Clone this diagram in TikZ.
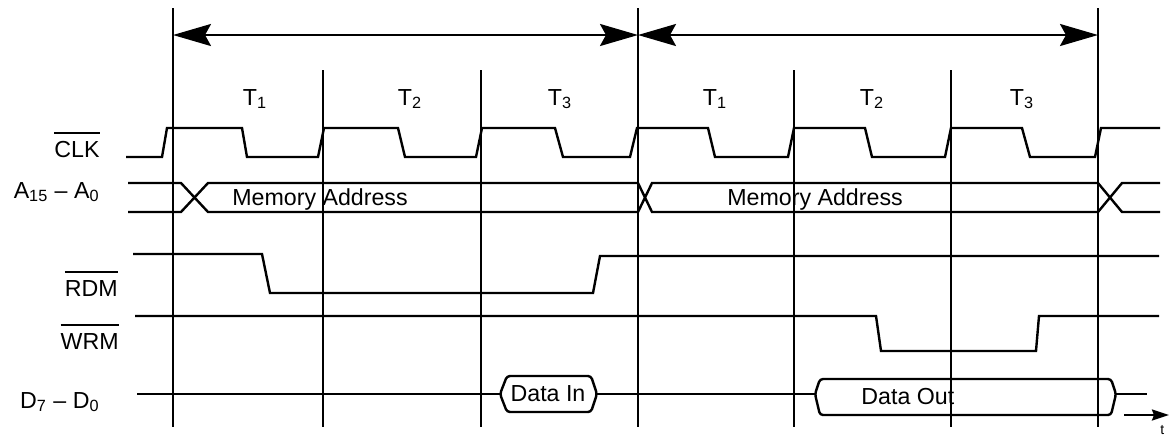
\documentclass[tikz,border=0pt]{standalone}
\usepackage{fontspec}
\setmainfont{Liberation Sans}
\usetikzlibrary{arrows.meta}

%% active-low signal name: bar over the text
\newcommand{\sigbar}[1]{\vbox{\hrule height 1pt\kern 3.6pt\hbox{#1}}}

\begin{document}
\begin{tikzpicture}[
  x=0.5pt, y=-0.5pt,
  every node/.style={font=\fontsize{11.6pt}{14pt}\selectfont, inner sep=0pt},
  grid/.style ={line width=1.1pt},
  wave/.style ={line width=1.2pt, line join=miter},
  dbox/.style ={line width=1.2pt, rounded corners=1.5pt},
  span/.style ={line width=1.2pt,
                {Stealth[length=19pt,width=11pt,inset=3pt]}-{Stealth[length=19pt,width=11pt,inset=3pt]}},
  tarr/.style ={line width=1.2pt, -{Stealth[length=8.5pt,width=5.5pt,inset=1pt]}},
  sig/.style  ={anchor=base east},
  tlab/.style ={anchor=base},
  dlab/.style ={anchor=base west}]

\useasboundingbox (0,0) rectangle (1169,436);

%% machine-cycle boundaries
\coordinate (mA) at (173,8);
\coordinate (mB) at (638,8);
\coordinate (mC) at (1098,8);
\draw[grid] (mA) -- ++(0,419);
\draw[grid] (mB) -- ++(0,419);
\draw[grid] (mC) -- ++(0,419);

%% T-state boundaries
\coordinate (sA) at (323,70);
\coordinate (sB) at (481,70);
\coordinate (sC) at (794,70);
\coordinate (sD) at (951,70);
\draw[grid] (sA) -- ++(0,357);
\draw[grid] (sB) -- ++(0,357);
\draw[grid] (sC) -- ++(0,357);
\draw[grid] (sD) -- ++(0,357);

%% cycle length arrows
\coordinate (spanA) at (173,35);
\coordinate (spanB) at (638,35);
\coordinate (spanC) at (1098,35);
\draw[span] (spanA) -- (spanB);
\draw[span] (spanB) -- (spanC);

%% T-state labels
\node[tlab] (tA1) at (255,105) {T\textsubscript{1}};
\node[tlab] (tA2) at (410,105) {T\textsubscript{2}};
\node[tlab] (tA3) at (560,105) {T\textsubscript{3}};
\node[tlab] (tB1) at (715,105) {T\textsubscript{1}};
\node[tlab] (tB2) at (872,105) {T\textsubscript{2}};
\node[tlab] (tB3) at (1022,105) {T\textsubscript{3}};

%% signal names
\node[sig] (clk)  at (100,157) {\sigbar{CLK}};
\node[sig] (addr) at (100,198) {A\textsubscript{15} -- A\textsubscript{0}};
\node[sig] (rdm)  at (118,296) {\sigbar{RDM}};
\node[sig] (wrm)  at (119,349) {\sigbar{WRM}};
\node[sig] (data) at (100,408) {D\textsubscript{7} -- D\textsubscript{0}};

%% clock
\draw[wave] (126,157) -- (162,157) -- (167,128) -- (242,128) -- (247,157)
  -- (318,157) -- (324,128) -- (398,128) -- (405,157) -- (476,157)
  -- (482,128) -- (555,128) -- (563,157) -- (630,157) -- (637,128)
  -- (708,128) -- (715,157) -- (788,157) -- (794,128) -- (865,128)
  -- (872,157) -- (945,157) -- (951,128) -- (1022,128) -- (1030,157)
  -- (1095,157) -- (1101,128) -- (1160,128);

%% address bus
\draw[wave] (128,183) -- (181,183) -- (208,212) -- (638,212) -- (652,183)
  -- (1098,183) -- (1122,212) -- (1160,212);
\draw[wave] (128,212) -- (181,212) -- (208,183) -- (638,183) -- (652,212)
  -- (1098,212) -- (1122,183) -- (1160,183);
\node[dlab] (maddrA) at (232,205) {Memory Address};
\node[dlab] (maddrB) at (727,205) {Memory Address};

%% read and write strobes
\draw[wave] (133,254) -- (262,254) -- (270,293) -- (593,293) -- (600,256)
  -- (1159,256);
\draw[wave] (135,316) -- (876,316) -- (881,351) -- (1036,351) -- (1039,316)
  -- (1159,316);

%% data bus
\draw[wave] (137,394) -- (500,394);
\draw[dbox] (500,394) -- (507,376) -- (591,376) -- (597,394) -- (591,412)
  -- (507,412) -- cycle;
\node (din) at (548,394) {Data In};
\draw[wave] (597,394) -- (815,394);
\draw[dbox] (815,394) -- (820,379) -- (1111,379) -- (1116,394) -- (1111,415)
  -- (820,415) -- cycle;
\node[dlab] (dout) at (861,404) {Data Out};
\draw[wave] (1116,394) -- (1147,394);

%% time axis
\coordinate (tfrom) at (1124,415);
\coordinate (tto)   at (1169,415);
\draw[tarr] (tfrom) -- (tto);
\node[anchor=base west, font=\fontsize{7pt}{8pt}\selectfont] (tax) at (1160,434) {t};
\end{tikzpicture}
\end{document}
